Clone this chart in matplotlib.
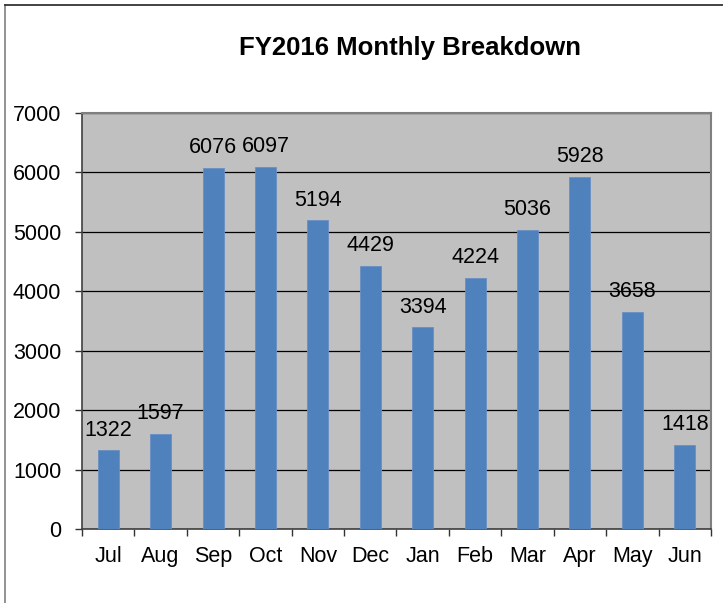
import numpy as np
from matplotlib import pyplot as plt
from matplotlib.lines import Line2D

plt.rcParams['font.family'] = ['Liberation Sans', 'DejaVu Sans']

months = ['Jul', 'Aug', 'Sep', 'Oct', 'Nov', 'Dec',
          'Jan', 'Feb', 'Mar', 'Apr', 'May', 'Jun']
counts = [1322, 1597, 6076, 6097, 5194, 4429,
          3394, 4224, 5036, 5928, 3658, 1418]
yticks = [0, 1000, 2000, 3000, 4000, 5000, 6000, 7000]

fs = 15.5

fig = plt.figure(figsize=(7.23, 6.03), dpi=100)
ax = fig.add_axes([82 / 723, 1 - 529 / 603, 629 / 723, 416 / 603])
ax.set_facecolor('#C0C0C0')

x = np.arange(len(months))
ax.bar(x, counts, width=0.40, color='#4F81BD', edgecolor='#6A8FC4',
       linewidth=0.6, zorder=3)
for xi, c in zip(x, counts):
    ax.annotate(str(c), (xi, c), xytext=(0, 7), textcoords='offset points',
                ha='center', va='bottom', fontsize=fs, zorder=4)

ax.set_xlim(-0.5, len(months) - 0.5)
ax.set_ylim(0, 7000)
ax.set_yticks(yticks)
ax.set_yticklabels([str(t) for t in yticks], fontsize=fs)
ax.yaxis.grid(True, color='black', linewidth=0.9, zorder=1)
ax.set_axisbelow(True)

# category labels in the middle, tick marks on the boundaries
ax.set_xticks(x)
ax.set_xticklabels(months, fontsize=fs)
ax.tick_params(axis='x', which='major', length=0, pad=12)
ax.set_xticks(np.arange(-0.5, len(months)), minor=True)
ax.tick_params(axis='x', which='minor', length=5, width=1, color='#333333')
ax.tick_params(axis='y', length=5, width=1, color='#333333', pad=10)

for side in ['top', 'right']:
    ax.spines[side].set_color('#808080')
    ax.spines[side].set_linewidth(1.5)
for side in ['left', 'bottom']:
    ax.spines[side].set_color('#404040')
    ax.spines[side].set_linewidth(1.2)

fig.text(410 / 723, 1 - 48 / 603, 'FY2016 Monthly Breakdown',
         ha='center', va='center', fontsize=18.5, fontweight='bold')

# chart frame (left and top edges visible)
fig.add_artist(Line2D([5 / 723, 5 / 723], [0, 1 - 5 / 603],
                      transform=fig.transFigure, color='#808080', linewidth=1.2))
fig.add_artist(Line2D([5 / 723, 1], [1 - 5 / 603, 1 - 5 / 603],
                      transform=fig.transFigure, color='#222222', linewidth=1.2))

plt.savefig('out.png', dpi=100)
